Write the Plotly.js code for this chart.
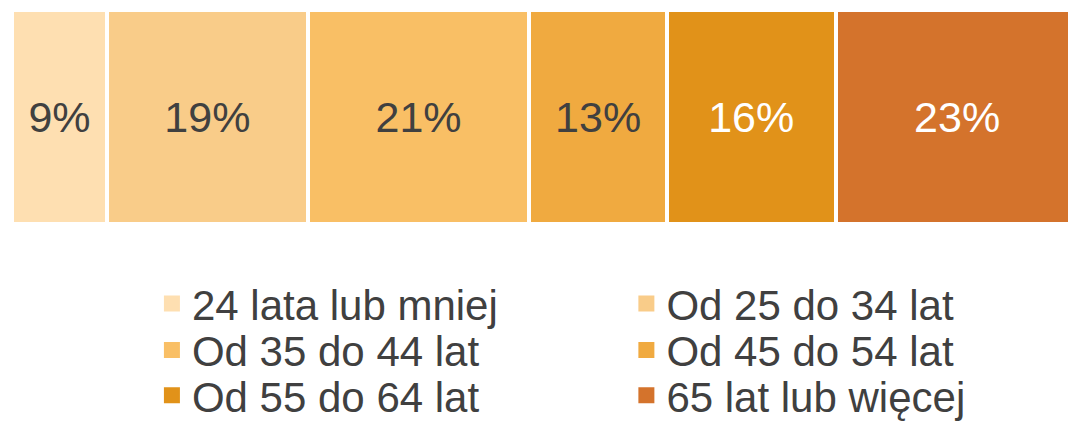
<!DOCTYPE html>
<html>
<head>
<meta charset="utf-8">
<script src="https://cdn.plot.ly/plotly-3.0.1.min.js"></script>
<style>html,body{margin:0;padding:0;background:#fff;}#chart{width:1068px;height:421px;}</style>
</head>
<body>
<div id="chart"></div>
<script>
var categories = ["24 lata lub mniej", "Od 25 do 34 lat", "Od 35 do 44 lat", "Od 45 do 54 lat", "Od 55 do 64 lat", "65 lat lub więcej"];
var values = [9, 19, 21, 13, 16, 23];
var colors = ["#FEDFB1", "#F9CC89", "#F9BF65", "#F0AA40", "#E19219", "#D4732C"];
var textColors = ["#404040", "#404040", "#404040", "#404040", "#ffffff", "#ffffff"];

var FONT = "Liberation Sans, Arial, sans-serif";
var legendNames = ["legend", "legend2", "legend3", "legend4", "legend5", "legend6"];
// legend grid: 2 columns, 3 rows
var colX = [0.1325, 0.5818];
var rowY = [-0.373, -0.590, -0.801];

var traces = [];
var layout = {
  width: 1068, height: 421,
  margin: {l: 12, r: 0, t: 10, b: 197, autoexpand: false},
  paper_bgcolor: "#ffffff",
  plot_bgcolor: "#ffffff",
  barmode: "stack",
  showlegend: true,
  hovermode: false,
  xaxis: {range: [0, 100], visible: false, fixedrange: true},
  yaxis: {range: [-0.5, 0.5], visible: false, fixedrange: true},
  font: {family: FONT}
};

categories.forEach(function (cat, i) {
  traces.push({
    type: "bar",
    orientation: "h",
    name: cat,
    x: [values[i]],
    y: [0],
    width: 1,
    marker: {color: colors[i], line: {color: "#ffffff", width: 4}},
    text: [values[i] + "%"],
    textposition: "inside",
    insidetextanchor: "middle",
    textangle: 0,
    constraintext: "none",
    textfont: {family: FONT, size: 43, color: textColors[i]},
    showlegend: false,
    hoverinfo: "skip"
  });
  traces.push({
    type: "scatter",
    mode: "markers",
    name: cat,
    x: [null],
    y: [null],
    marker: {symbol: "square", size: 16, color: colors[i]},
    legend: legendNames[i],
    showlegend: true,
    hoverinfo: "skip"
  });
  layout[legendNames[i]] = {
    x: colX[i % 2],
    y: rowY[Math.floor(i / 2)],
    xanchor: "left",
    yanchor: "middle",
    bgcolor: "rgba(0,0,0,0)",
    borderwidth: 0,
    font: {family: FONT, size: 42, color: "#404040"},
    itemclick: false,
    itemdoubleclick: false
  };
});

Plotly.newPlot("chart", traces, layout, {displayModeBar: false, staticPlot: true});
</script>
</body>
</html>
